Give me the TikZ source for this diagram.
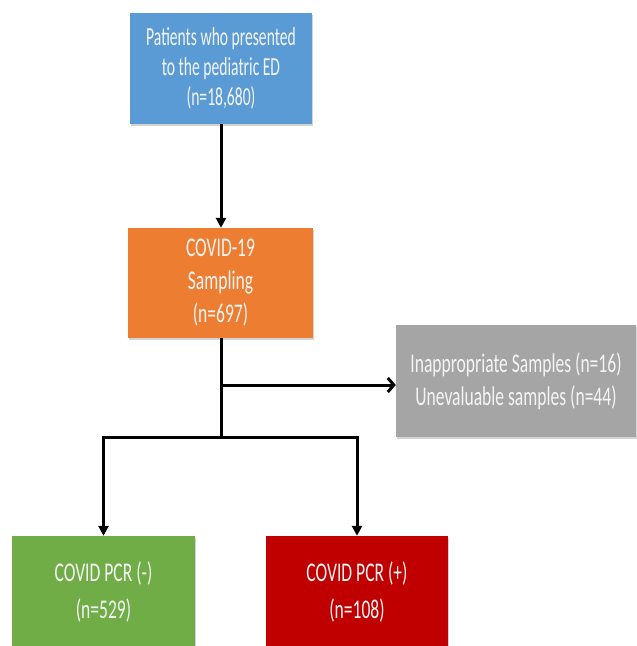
\documentclass[tikz,border=0pt]{standalone}
\usepackage{fontspec}
\setmainfont{Carlito}[FakeStretch=0.65]
\newfontfamily\narrowfont{Carlito}[FakeStretch=0.6]
\usetikzlibrary{arrows.meta,shadows}
\definecolor{cblue}{HTML}{5B9BD5}
\definecolor{corange}{HTML}{ED7D31}
\definecolor{cgray}{HTML}{A5A5A5}
\definecolor{cgreen}{HTML}{70AD47}
\definecolor{cred}{HTML}{C00000}
\definecolor{ctext}{HTML}{F4F4F4}
\tikzset{
  box/.style={rectangle, draw=none, text=ctext, align=center, inner sep=0pt,
    font=\fontsize{27}{33}\selectfont,
    drop shadow={opacity=0.35, shadow xshift=1pt, shadow yshift=-2pt}},
  conn/.style={line width=3pt, black},
  downarrow/.style={conn, -{Triangle[length=10pt,width=10pt]}},
  sidearrow/.style={conn, -{Straight Barb[length=6pt,width=14pt,line width=3pt]}}
}
\begin{document}
\begin{tikzpicture}[x=1pt,y=-1pt]
\useasboundingbox (0,0) rectangle (637,646);
\clip (0,0) rectangle (637,646);
\node[box, fill=cblue, minimum width=182pt, minimum height=111pt,
  font=\narrowfont\fontsize{26}{30}\selectfont] (pat) at (221,68.5)
  {Patients who presented\\to the pediatric ED\\(n=18,680)};
\node[box, fill=corange, minimum width=185pt, minimum height=110pt] (samp) at (220.5,283)
  {COVID-19\\Sampling\\(n=697)};
\node[box, fill=cgray, minimum width=240pt, minimum height=112pt] (excl) at (516,381)
  {Inappropriate Samples (n=16)\\Unevaluable samples (n=44)};
\node[box, fill=cgreen, minimum width=183pt, minimum height=112pt,
  font=\fontsize{27}{37}\selectfont] (neg) at (103.5,592)
  {COVID PCR (-)\\(n=529)};
\node[box, fill=cred, minimum width=182pt, minimum height=112pt,
  font=\fontsize{27}{37}\selectfont] (pos) at (357,592)
  {COVID PCR (+)\\(n=108)};
\coordinate (br) at (221,385);
\coordinate (bar) at (221,437);
\coordinate (barl) at (neg.north |- bar);
\coordinate (barr) at (pos.north |- bar);
\draw[downarrow] (pat.south -| br) -- (samp.north -| br);
\draw[conn] (samp.south -| br) -- (bar);
\draw[sidearrow] (br) -- (excl.west |- br);
\draw[conn, line cap=rect] (barl) -- (barr);
\draw[downarrow] (barl) -- (neg.north);
\draw[downarrow] (barr) -- (pos.north);
\end{tikzpicture}
\end{document}
